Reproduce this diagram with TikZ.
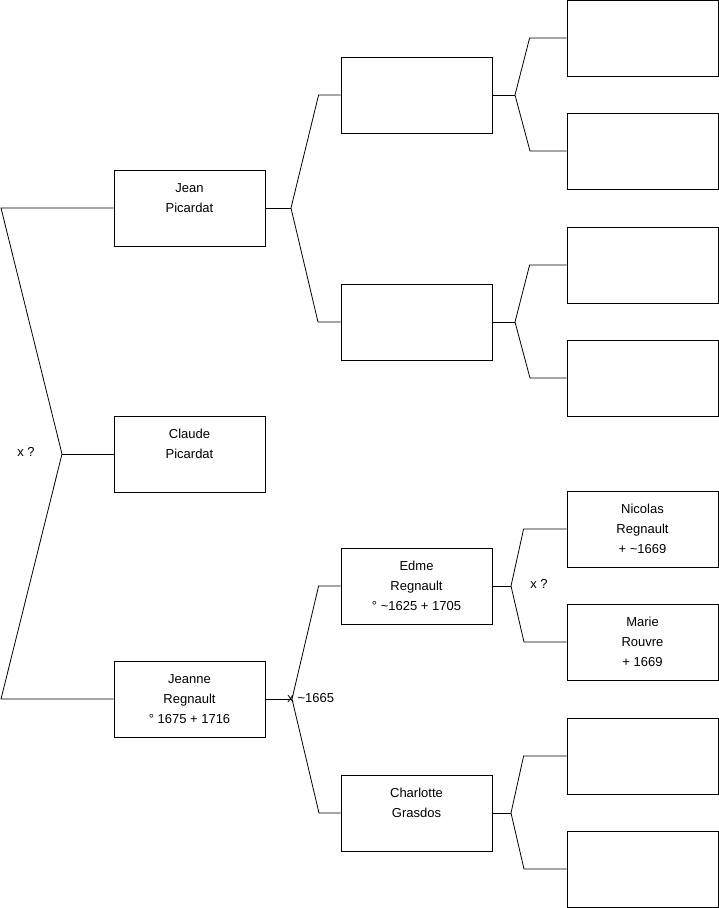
\documentclass[tikz,border=0pt]{standalone}
\usepackage{fontspec}
\setmainfont{Liberation Sans}
\usetikzlibrary{positioning}

\begin{document}
\begin{tikzpicture}[
x=1pt, y=-1pt, line width=0.8pt,
    person/.style={rectangle, draw, minimum width=151pt, minimum height=76pt, inner sep=0pt, align=center, font=\fontsize{13}{20}\selectfont},
    union/.style={inner sep=0pt, font=\fontsize{13}{16}\selectfont},
    fork/.style={draw}
]
\useasboundingbox (0,0) rectangle (719,908);

    % Generation 1
    \node[person] (jean) at (189.5,208) {Jean\\Picardat\\\mbox{}};
    \node[person] (claude) at (189.5,454) {Claude\\Picardat\\\mbox{}};
    \node[person] (jeanne) at (189.5,699) {Jeanne\\Regnault\\° 1675 + 1716};

    % Generation 2
    \node[person] (jeanf) at (416.5,95) {};
    \node[person] (jeanm) at (416.5,322) {};
    \node[person] (edme) at (416.5,586) {Edme\\Regnault\\° \textasciitilde 1625 + 1705};
    \node[person] (charlotte) at (416.5,813) {Charlotte\\Grasdos\\\mbox{}};

    % Generation 3
    \node[person] (jff) at (642.5,38) {};
    \node[person] (jfm) at (642.5,151) {};
    \node[person] (jmf) at (642.5,265) {};
    \node[person] (jmm) at (642.5,378) {};
    \node[person] (nicolas) at (642.5,529) {Nicolas\\Regnault\\+ \textasciitilde 1669};
    \node[person] (marie) at (642.5,642) {Marie\\Rouvre\\+ 1669};
    \node[person] (cf) at (642.5,756) {};
    \node[person] (cm) at (642.5,869) {};

    % Unions
    \node[union] (u0) at (26,452) {x ?};
    \node[union, anchor=west] (u1) at (287,698) {x \textasciitilde 1665};
    \node[union] (u2) at (539,584) {x ?};

    % Junctions
    \coordinate (k0) at (62,454);
    \coordinate (k1) at (291,208);
    \coordinate (k2) at (515,95);
    \coordinate (k3) at (515,322);
    \coordinate (k4) at (292,699);
    \coordinate (k5) at (511,586);
    \coordinate (k6) at (511,813);

    % Forks
    \draw[fork] (jean.west) -- (1,208) -- (k0) -- (1,699) -- (jeanne.west);
    \draw[fork] (k0) -- (claude.west);

    \draw[fork] (jean.east) -- (k1);
    \draw[fork] (jeanf.west) -- ++(-22,0) -- (k1) -- ++(27,114) -- (jeanm.west);

    \draw[fork] (jeanf.east) -- (k2);
    \draw[fork] (jff.west) -- ++(-37,0) -- (k2) -- ++(15,56) -- (jfm.west);

    \draw[fork] (jeanm.east) -- (k3);
    \draw[fork] (jmf.west) -- ++(-37,0) -- (k3) -- ++(15,56) -- (jmm.west);

    \draw[fork] (jeanne.east) -- (k4);
    \draw[fork] (edme.west) -- ++(-22,0) -- (k4) -- ++(27,114) -- (charlotte.west);

    \draw[fork] (edme.east) -- (k5);
    \draw[fork] (nicolas.west) -- ++(-43,0) -- (k5) -- ++(13,56) -- (marie.west);

    \draw[fork] (charlotte.east) -- (k6);
    \draw[fork] (cf.west) -- ++(-43,0) -- (k6) -- ++(13,56) -- (cm.west);

\end{tikzpicture}
\end{document}
